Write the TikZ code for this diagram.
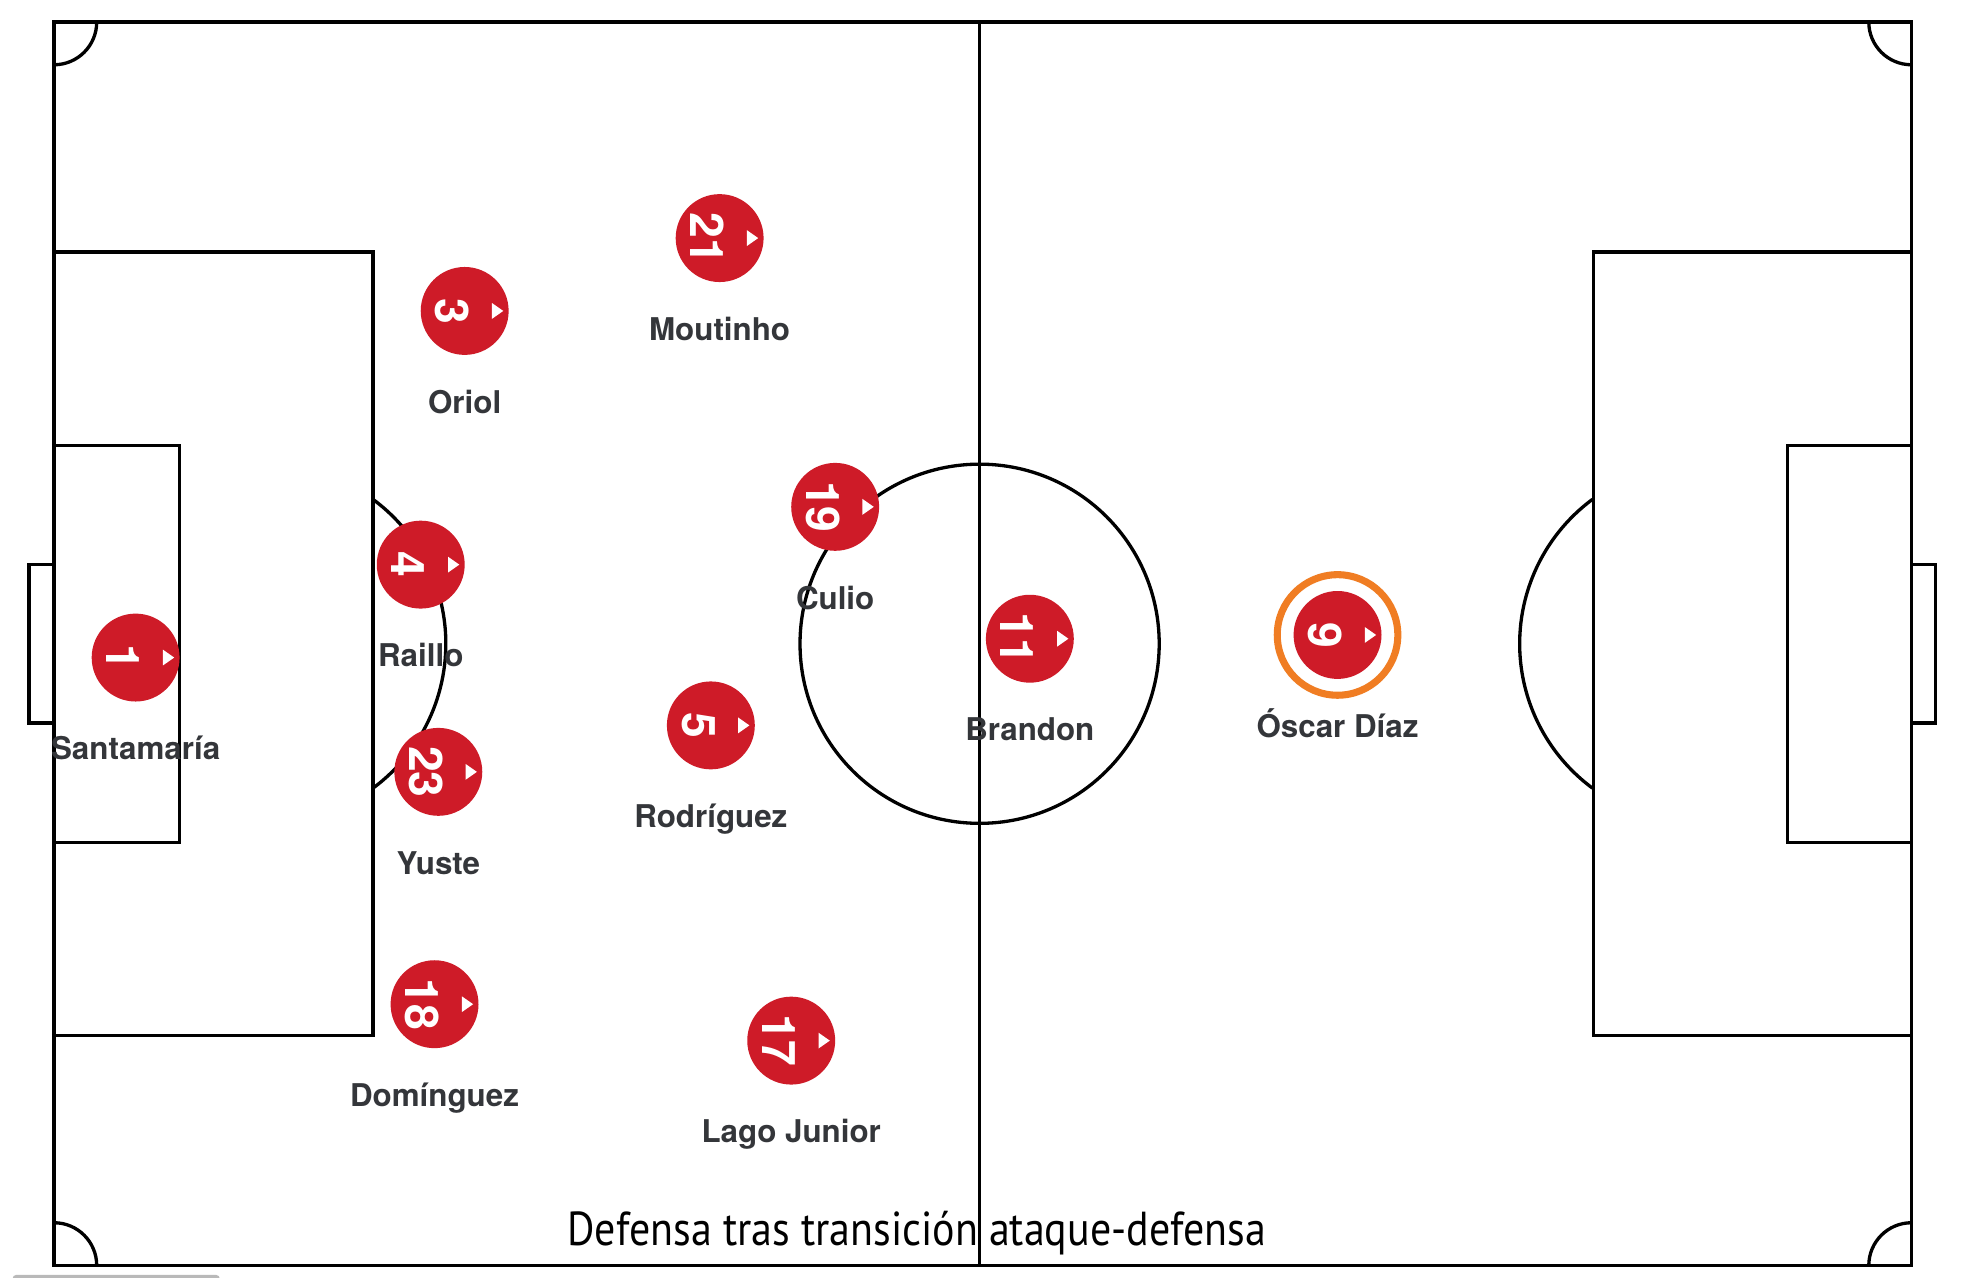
\documentclass[tikz,border=0pt]{standalone}
\usepackage{fontspec}
\setmainfont{TeX Gyre Heros}
\newfontfamily\capfont[FakeStretch=0.88]{PT Sans}
\usepackage{tikz}
\usetikzlibrary{positioning,shapes.geometric}
\usepackage{xcolor}
\definecolor{plred}{RGB}{206,27,40}
\definecolor{ringorange}{RGB}{240,125,35}
\definecolor{namegray}{RGB}{52,54,58}
\tikzset{
    pitchline/.style={
        draw=black,
        line width=0.75pt
    },
    player/.style={
        circle,
        fill=plred,
        minimum size=0.7cm,
        inner sep=0pt,
        label={[marker]center:{}}
    },
    marker/.style={
        isosceles triangle,
        isosceles triangle apex angle=70,
        fill=white,
        inner sep=0pt,
        minimum height=0.09cm,
        minimum width=0.1cm,
        xshift=0.25cm
    },
    num/.style={
        xshift=-0.1cm,
        rotate=-90,
        text=white,
        inner sep=0pt,
        font=\fontsize{10.5}{10.5}\selectfont\bfseries
    },
    plname/.style={
        yshift=-0.27cm,
        text=namegray,
        inner sep=0pt,
        text height=0.18cm,
        text depth=0.06cm,
        font=\fontsize{7.1}{8.5}\selectfont\bfseries
    },
    highlight/.style={
        draw=ringorange,
        line width=1.6pt
    }
}

\begin{document}
\begin{tikzpicture}
  \path[use as bounding box, fill=white] (0,0) rectangle (15.63,10.176);

  % Pitch outline and halfway line
  \draw[pitchline] (0.43,0.10) rectangle (15.22,10.00);
  \draw[pitchline] (7.80,0.10) -- (7.80,10.00);
  \draw[pitchline] (7.80,5.05) circle (1.43);

  % Left area
  \draw[pitchline] (0.43,1.93) rectangle (2.97,8.17);
  \draw[pitchline] (0.43,3.47) rectangle (1.43,6.63);
  \draw[pitchline] (0.43,4.42) -- (0.23,4.42) -- (0.23,5.68) -- (0.43,5.68);
  \draw[pitchline] ([shift={(-53.5:1.43)}]2.12,5.05) arc (-53.5:53.5:1.43);

  % Right area
  \draw[pitchline] (12.69,1.93) rectangle (15.22,8.17);
  \draw[pitchline] (14.23,3.47) rectangle (15.22,6.63);
  \draw[pitchline] (15.22,4.42) -- (15.41,4.42) -- (15.41,5.68) -- (15.22,5.68);
  \draw[pitchline] ([shift={(126.5:1.43)}]13.53,5.05) arc (126.5:233.5:1.43);

  % Corners
  \draw[pitchline] (0.43,9.66) arc (270:360:0.34);
  \draw[pitchline] (14.88,10.00) arc (180:270:0.34);
  \draw[pitchline] (0.77,0.10) arc (0:90:0.34);
  \draw[pitchline] (15.22,0.44) arc (90:180:0.34);

  % Players
  \node[player, label={[num]center:1}, label={[plname]below:Santamaría}] (p1) at (1.08,4.94) {};
  \node[player, label={[num]center:3}, label={[plname]below:Oriol}] (p3) at (3.70,7.70) {};
  \node[player, label={[num]center:21}, label={[plname]below:Moutinho}] (p21) at (5.73,8.28) {};
  \node[player, label={[num]center:4}, label={[plname]below:Raillo}] (p4) at (3.35,5.68) {};
  \node[player, label={[num]center:19}, label={[plname]below:Culio}] (p19) at (6.65,6.14) {};
  \node[player, label={[num]center:23}, label={[plname]below:Yuste}] (p23) at (3.49,4.03) {};
  \node[player, label={[num]center:5}, label={[plname]below:Rodríguez}] (p5) at (5.66,4.40) {};
  \node[player, label={[num]center:11}, label={[plname]below:Brandon}] (p11) at (8.20,5.09) {};
  \node[player, label={[num]center:9}, label={[plname]below:Óscar Díaz}] (p9) at (10.65,5.12) {};
  \node[player, label={[num]center:18}, label={[plname]below:Domínguez}] (p18) at (3.46,2.18) {};
  \node[player, label={[num]center:17}, label={[plname]below:Lago Junior}] (p17) at (6.30,1.89) {};

  % Selected player
  \draw[highlight] (p9.center) circle (0.48);

  % Caption
  \node[font=\capfont\fontsize{10.8}{13}\selectfont] (titulo) at (7.30,0.36) {Defensa tras transición ataque-defensa};

  % Scroll bar
  \fill[gray!55, rounded corners=0.03cm] (0.10,-0.05) rectangle (1.75,0.025);
\end{tikzpicture}
\end{document}
